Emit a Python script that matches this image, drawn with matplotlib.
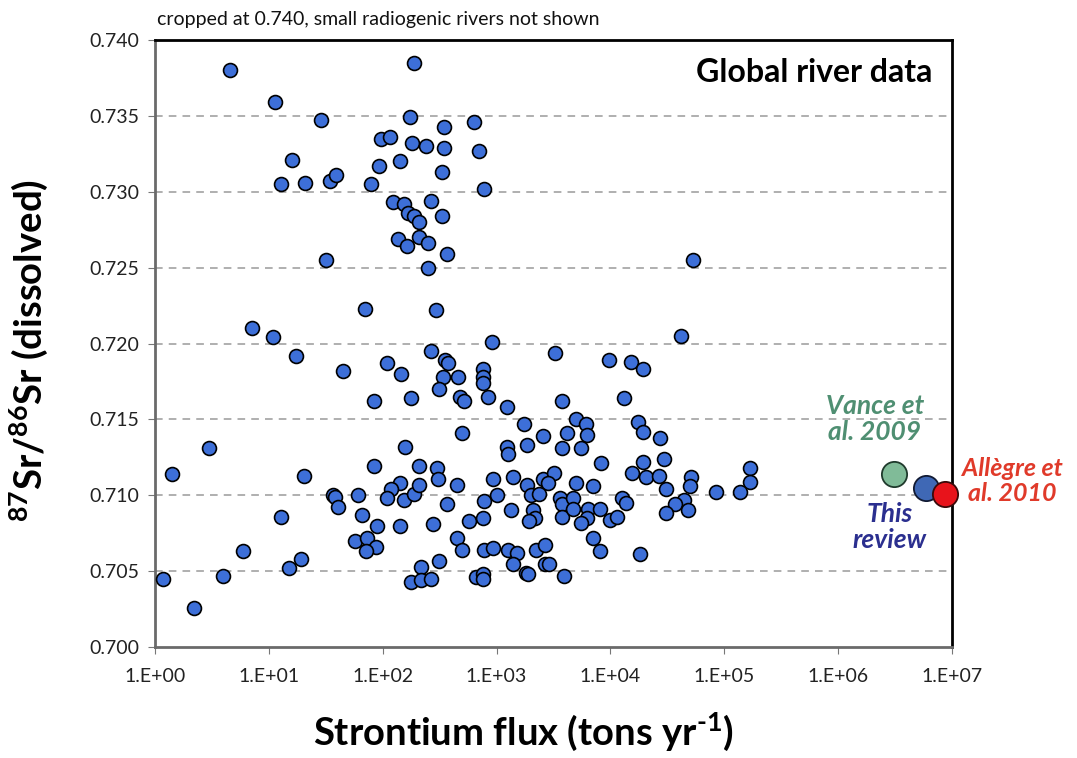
import matplotlib
matplotlib.use("Agg")
import matplotlib.pyplot as plt

plt.rcParams['font.family'] = ['Lato', 'DejaVu Sans']
plt.rcParams['mathtext.default'] = 'regular'

# river data: Sr flux (tons/yr) and 87Sr/86Sr
flux = [4.6, 11.3, 29, 16, 12.7, 20.6, 34.4, 38.8, 31.5, 69.8, 7.06, 10.9, 17.3,
        188, 173, 349, 632, 95.9, 116, 180, 239, 349, 703, 142, 93.2, 329, 78.3, 778,
        122, 154, 263, 167, 188, 208, 329, 137, 164, 208, 248, 364, 248, 293, 904,
        53200, 42100,
        44.5, 3.0, 1.40, 20.5, 36.3, 38, 40.7, 12.7, 5.9, 19.1, 15.1, 3.98, 1.17, 2.2,
        263, 3250, 110, 144, 352, 376, 340, 460, 753, 753, 763, 313, 476, 517, 834,
        83.2, 179, 1224, 3740, 1740, 496, 157, 1224, 1265, 1870, 2535, 3740, 4170,
        83.7, 207, 297, 303, 142, 118, 110, 154, 188, 208, 445, 934, 1400, 1870,
        2535, 3185, 2840, 61, 364, 778, 1000, 2000, 2366, 3595, 3720, 65.3, 89.5,
        142, 274, 568, 763, 1327, 2070, 2170, 1932, 3740, 57, 72.3, 87.1, 71.2, 445,
        496, 778, 934, 1265, 1500, 1400, 1808, 1893, 2213, 2673, 2673, 2897, 3900,
        313, 215, 177, 215, 265, 658, 753, 763,
        9680, 15100, 19400, 13100, 4940, 6080, 6170, 5500, 17300, 19400, 27500,
        29400, 19400, 8350, 15600, 20700, 26600, 30700, 51500, 49800, 170000,
        170000, 137000, 84100, 4970, 7050, 4650, 4650, 6370, 8180, 6170, 5470,
        9890, 11500, 12700, 13800, 44100, 36700, 48100, 30700, 7050, 8070, 18100]
ratio = [0.7380, 0.7359, 0.7347, 0.7321, 0.7305, 0.7306, 0.7307, 0.7311, 0.7255, 0.7223, 0.7210, 0.7204, 0.7192,
         0.7385, 0.7349, 0.7343, 0.7346, 0.7335, 0.7336, 0.7332, 0.7330, 0.7329, 0.7327, 0.7320, 0.7317, 0.7313, 0.7305, 0.7302,
         0.7293, 0.7292, 0.7294, 0.7286, 0.7284, 0.7280, 0.7284, 0.7269, 0.7264, 0.7270, 0.7266, 0.7259, 0.7250, 0.7222, 0.7201,
         0.7255, 0.7205,
         0.7182, 0.7131, 0.7114, 0.7113, 0.7100, 0.7099, 0.7092, 0.7086, 0.7063, 0.7058, 0.7052, 0.7047, 0.7045, 0.7026,
         0.7195, 0.7194, 0.7187, 0.7180, 0.7189, 0.7187, 0.7178, 0.7178, 0.7183, 0.7178, 0.7174, 0.7170, 0.7165, 0.7162, 0.7165,
         0.7162, 0.7164, 0.7158, 0.7162, 0.7147, 0.7141, 0.7132, 0.7132, 0.7127, 0.7133, 0.7139, 0.7131, 0.7141,
         0.7119, 0.7119, 0.7118, 0.7111, 0.7108, 0.7104, 0.7098, 0.7097, 0.7101, 0.7107, 0.7107, 0.7111, 0.7112, 0.7107,
         0.7111, 0.7115, 0.7108, 0.7100, 0.7094, 0.7096, 0.7100, 0.7100, 0.7101, 0.7098, 0.7094, 0.7087, 0.7080,
         0.7080, 0.7081, 0.7083, 0.7085, 0.7090, 0.7090, 0.7085, 0.7083, 0.7086, 0.7070, 0.7072, 0.7066, 0.7063, 0.7072,
         0.7064, 0.7064, 0.7065, 0.7064, 0.7062, 0.7055, 0.7049, 0.7048, 0.7064, 0.7067, 0.7055, 0.7055, 0.7047,
         0.7057, 0.7053, 0.7043, 0.7044, 0.7045, 0.7046, 0.7048, 0.7045,
         0.7189, 0.7188, 0.7183, 0.7164, 0.7150, 0.7147, 0.7140, 0.7131, 0.7148, 0.7142, 0.7138,
         0.7124, 0.7122, 0.7121, 0.7115, 0.7112, 0.7113, 0.7104, 0.7112, 0.7106, 0.7118,
         0.7109, 0.7102, 0.7102, 0.7108, 0.7106, 0.7098, 0.7091, 0.7091, 0.7091, 0.7085, 0.7082,
         0.7084, 0.7086, 0.7098, 0.7095, 0.7097, 0.7094, 0.7090, 0.7088, 0.7072, 0.7063, 0.7061]

# global estimates
vance = (3.1e6, 0.7114)
review = (5.9e6, 0.7105)
allegre = (8.75e6, 0.7101)

xticks = [1, 10, 100, 1e3, 1e4, 1e5, 1e6, 1e7]
xlabels = ['1.E+00', '1.E+01', '1.E+02', '1.E+03', '1.E+04', '1.E+05', '1.E+06', '1.E+07']
yticks = [0.700, 0.705, 0.710, 0.715, 0.720, 0.725, 0.730, 0.735, 0.740]

fig = plt.figure(figsize=(10.77, 7.58), dpi=100)
ax = fig.add_axes([0.1439, 0.1464, 0.7400, 0.8008])

ax.scatter(flux, ratio, s=100, color='#3d6fd8', edgecolor='black', linewidth=1.2, zorder=3)
ax.scatter(*vance, s=330, color='#80bb98', edgecolor='#1f3a2c', linewidth=1.3, zorder=4, clip_on=False)
ax.scatter(*review, s=330, color='#3f68b5', edgecolor='#111a33', linewidth=1.3, zorder=5, clip_on=False)
ax.scatter(*allegre, s=330, color='#e8131b', edgecolor='#3a0a0a', linewidth=1.3, zorder=6, clip_on=False)

ax.set_xscale('log')
ax.set_xlim(1, 1e7)
ax.set_ylim(0.700, 0.740)
ax.set_xticks(xticks, xlabels)
ax.minorticks_off()
ax.set_yticks(yticks, ['%.3f' % v for v in yticks])
ax.tick_params(axis='both', direction='out', length=5, color='#777777', labelsize=14,
               labelcolor='#222222', pad=6)
ax.tick_params(axis='x', pad=10)

for yv in yticks[1:-1]:
    ax.axhline(yv, color='#9a9a9a', linestyle=(0, (5, 4)), linewidth=1.1, zorder=1)

for side in ['top', 'right']:
    ax.spines[side].set_color('black')
    ax.spines[side].set_linewidth(2)
for side in ['left', 'bottom']:
    ax.spines[side].set_color('#6a6a6a')
    ax.spines[side].set_linewidth(2)

ax.set_ylabel('$^{87}$Sr/$^{86}$Sr (dissolved)', fontsize=27.5, fontweight='bold')
ax.yaxis.set_label_coords(-0.132, 0.488)
ax.set_xlabel('Strontium flux (tons yr$^{\u20101}$)', fontsize=27.5, fontweight='bold')
ax.xaxis.set_label_coords((523 - 155) / 797, -0.105)

ax.text(0.975, 0.97, 'Global river data', transform=ax.transAxes, ha='right', va='top',
        fontsize=23, fontweight='bold', color='black')
fig.text(157 / 1077, 1 - 20 / 758, 'cropped at 0.740, small radiogenic rivers not shown',
         ha='left', va='center', fontsize=14, color='#111111')

fig.text(875 / 1077, 1 - 419 / 758, 'Vance et\nal. 2009', ha='center', va='center',
         fontsize=19, fontweight='bold', style='italic', color='#4f8f72', linespacing=1.1)
fig.text(890 / 1077, 1 - 527 / 758, 'This\nreview', ha='center', va='center',
         fontsize=19, fontweight='bold', style='italic', color='#2b2f8f', linespacing=1.1)
fig.text(1012 / 1077, 1 - 481 / 758, 'Allègre et\nal. 2010', ha='center', va='center',
         fontsize=18, fontweight='bold', style='italic', color='#e03a2a', linespacing=1.1)

fig.savefig('out.png', dpi=100)
